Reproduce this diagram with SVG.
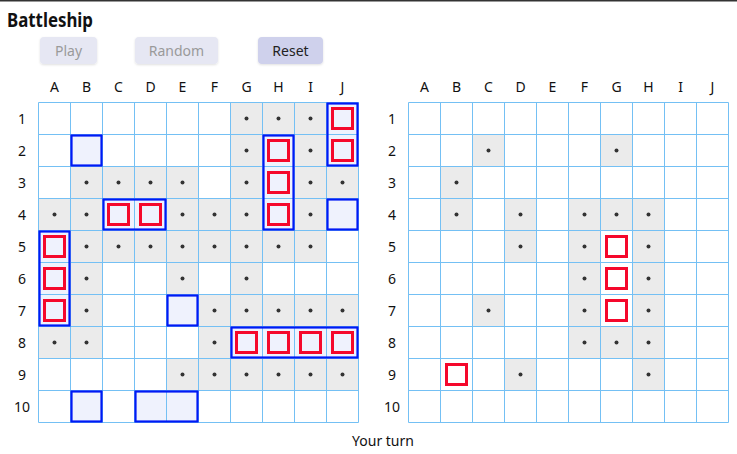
<svg xmlns="http://www.w3.org/2000/svg" width="737" height="454" viewBox="0 0 737 454">
<style>
text{font-family:"Noto Sans","Open Sans","Liberation Sans",sans-serif;}
.lbl{font-size:14px;fill:#111;text-anchor:middle;}
.gray{fill:#ebebeb;}
.shipfill{fill:#eff2fd;}
.ship{fill:none;stroke:#0019f5;stroke-width:2.2;}
.grid{fill:none;stroke:#74c0f4;stroke-width:1;}
.hit{fill:#eff2fd;stroke:#f5082c;stroke-width:3;}
.hitw{fill:#fff;stroke:#f5082c;stroke-width:3;}
.dot{fill:#333;}
.btn{fill:#e6e7f3;}
.btnon{fill:#cfd1ec;}
.btxt{font-size:14px;text-anchor:middle;fill:#9a9a9a;}
</style>
<defs>
<filter id="sh" x="-20%" y="-30%" width="140%" height="170%">
<feDropShadow dx="0" dy="1" stdDeviation="1" flood-color="#000" flood-opacity="0.12"/>
</filter>
</defs>
<rect x="0" y="0" width="737" height="454" fill="#fff"/>
<rect x="0" y="0" width="737" height="1.5" fill="#333"/>
<text x="7" y="26.5" textLength="86" lengthAdjust="spacingAndGlyphs" style="font-size:20px;font-weight:bold;fill:#111">Battleship</text>

<g id="buttons">
<g id="btn-play"><rect class="btn" x="40" y="37" width="57" height="27" rx="4" filter="url(#sh)"/><text class="btxt" x="68.5" y="56">Play</text></g>
<g id="btn-random"><rect class="btn" x="135" y="37" width="83" height="27" rx="4" filter="url(#sh)"/><text class="btxt" x="176.5" y="56">Random</text></g>
<g id="btn-reset"><rect class="btnon" x="258" y="37" width="65" height="27" rx="4" filter="url(#sh)"/><text class="btxt" x="290.5" y="56" style="fill:#222">Reset</text></g>
</g>

<g id="left-board">
<g id="left-labels" class="lbl">
<text x="54.5" y="92">A</text><text x="86.5" y="92">B</text><text x="118.5" y="92">C</text><text x="150.5" y="92">D</text><text x="182.5" y="92">E</text><text x="214.5" y="92">F</text><text x="246.5" y="92">G</text><text x="278.5" y="92">H</text><text x="310.5" y="92">I</text><text x="342.5" y="92">J</text>
<text x="22" y="123.5">1</text><text x="22" y="155.5">2</text><text x="22" y="187.5">3</text><text x="22" y="219.5">4</text><text x="22" y="251.5">5</text><text x="22" y="283.5">6</text><text x="22" y="315.5">7</text><text x="22" y="347.5">8</text><text x="22" y="379.5">9</text><text x="22" y="411.5">10</text>
</g>
<g id="left-misses" class="gray">
<rect x="230.5" y="102.5" width="96" height="32"/>
<rect x="230.5" y="134.5" width="32" height="32"/><rect x="294.5" y="134.5" width="32" height="32"/>
<rect x="70.5" y="166.5" width="128" height="32"/><rect x="230.5" y="166.5" width="32" height="32"/><rect x="294.5" y="166.5" width="64" height="32"/>
<rect x="38.5" y="198.5" width="64" height="32"/><rect x="166.5" y="198.5" width="96" height="32"/><rect x="294.5" y="198.5" width="32" height="32"/>
<rect x="70.5" y="230.5" width="256" height="32"/>
<rect x="70.5" y="262.5" width="32" height="32"/><rect x="166.5" y="262.5" width="32" height="32"/><rect x="230.5" y="262.5" width="32" height="32"/>
<rect x="70.5" y="294.5" width="32" height="32"/><rect x="198.5" y="294.5" width="160" height="32"/>
<rect x="38.5" y="326.5" width="64" height="32"/><rect x="198.5" y="326.5" width="32" height="32"/>
<rect x="166.5" y="358.5" width="192" height="32"/>
</g>
<g id="left-shipfill" class="shipfill">
<rect x="326.5" y="102.5" width="32" height="64"/>
<rect x="70.5" y="134.5" width="32" height="32"/>
<rect x="262.5" y="134.5" width="32" height="96"/>
<rect x="102.5" y="198.5" width="64" height="32"/>
<rect x="326.5" y="198.5" width="32" height="32"/>
<rect x="38.5" y="230.5" width="32" height="96"/>
<rect x="166.5" y="294.5" width="32" height="32"/>
<rect x="230.5" y="326.5" width="128" height="32"/>
<rect x="70.5" y="390.5" width="32" height="32"/>
<rect x="134.5" y="390.5" width="64" height="32"/>
</g>
<path id="left-grid" class="grid" d="M38.5 102.5V422.5M70.5 102.5V422.5M102.5 102.5V422.5M134.5 102.5V422.5M166.5 102.5V422.5M198.5 102.5V422.5M230.5 102.5V422.5M262.5 102.5V422.5M294.5 102.5V422.5M326.5 102.5V422.5M358.5 102.5V422.5M38.5 102.5H358.5M38.5 134.5H358.5M38.5 166.5H358.5M38.5 198.5H358.5M38.5 230.5H358.5M38.5 262.5H358.5M38.5 294.5H358.5M38.5 326.5H358.5M38.5 358.5H358.5M38.5 390.5H358.5M38.5 422.5H358.5"/>
<g id="left-ships" class="ship">
<rect x="327.5" y="103.5" width="30" height="62"/>
<rect x="71.5" y="135.5" width="30" height="30"/>
<rect x="263.5" y="135.5" width="30" height="94"/>
<rect x="103.5" y="199.5" width="62" height="30"/>
<rect x="327.5" y="199.5" width="30" height="30"/>
<rect x="39.5" y="231.5" width="30" height="94"/>
<rect x="167.5" y="295.5" width="30" height="30"/>
<rect x="231.5" y="327.5" width="126" height="30"/>
<rect x="71.5" y="391.5" width="30" height="30"/>
<rect x="135.5" y="391.5" width="62" height="30"/>
</g>
<g id="left-hits" class="hit">
<rect x="332.5" y="108.5" width="20" height="20"/>
<rect x="268.5" y="140.5" width="20" height="20"/>
<rect x="332.5" y="140.5" width="20" height="20"/>
<rect x="268.5" y="172.5" width="20" height="20"/>
<rect x="108.5" y="204.5" width="20" height="20"/>
<rect x="140.5" y="204.5" width="20" height="20"/>
<rect x="268.5" y="204.5" width="20" height="20"/>
<rect x="44.5" y="236.5" width="20" height="20"/>
<rect x="44.5" y="268.5" width="20" height="20"/>
<rect x="44.5" y="300.5" width="20" height="20"/>
<rect x="236.5" y="332.5" width="20" height="20"/>
<rect x="268.5" y="332.5" width="20" height="20"/>
<rect x="300.5" y="332.5" width="20" height="20"/>
<rect x="332.5" y="332.5" width="20" height="20"/>
</g>
<g id="left-dots" class="dot">
<circle cx="246.5" cy="118.5" r="2"/><circle cx="278.5" cy="118.5" r="2"/><circle cx="310.5" cy="118.5" r="2"/>
<circle cx="246.5" cy="150.5" r="2"/><circle cx="310.5" cy="150.5" r="2"/>
<circle cx="86.5" cy="182.5" r="2"/><circle cx="118.5" cy="182.5" r="2"/><circle cx="150.5" cy="182.5" r="2"/><circle cx="182.5" cy="182.5" r="2"/><circle cx="246.5" cy="182.5" r="2"/><circle cx="310.5" cy="182.5" r="2"/><circle cx="342.5" cy="182.5" r="2"/>
<circle cx="54.5" cy="214.5" r="2"/><circle cx="86.5" cy="214.5" r="2"/><circle cx="182.5" cy="214.5" r="2"/><circle cx="214.5" cy="214.5" r="2"/><circle cx="246.5" cy="214.5" r="2"/><circle cx="310.5" cy="214.5" r="2"/>
<circle cx="86.5" cy="246.5" r="2"/><circle cx="118.5" cy="246.5" r="2"/><circle cx="150.5" cy="246.5" r="2"/><circle cx="182.5" cy="246.5" r="2"/><circle cx="214.5" cy="246.5" r="2"/><circle cx="246.5" cy="246.5" r="2"/><circle cx="278.5" cy="246.5" r="2"/><circle cx="310.5" cy="246.5" r="2"/>
<circle cx="86.5" cy="278.5" r="2"/><circle cx="182.5" cy="278.5" r="2"/><circle cx="246.5" cy="278.5" r="2"/>
<circle cx="86.5" cy="310.5" r="2"/><circle cx="214.5" cy="310.5" r="2"/><circle cx="246.5" cy="310.5" r="2"/><circle cx="278.5" cy="310.5" r="2"/><circle cx="310.5" cy="310.5" r="2"/><circle cx="342.5" cy="310.5" r="2"/>
<circle cx="54.5" cy="342.5" r="2"/><circle cx="86.5" cy="342.5" r="2"/><circle cx="214.5" cy="342.5" r="2"/>
<circle cx="182.5" cy="374.5" r="2"/><circle cx="214.5" cy="374.5" r="2"/><circle cx="246.5" cy="374.5" r="2"/><circle cx="278.5" cy="374.5" r="2"/><circle cx="310.5" cy="374.5" r="2"/><circle cx="342.5" cy="374.5" r="2"/>
</g>
</g>

<g id="right-board">
<g id="right-labels" class="lbl">
<text x="424.5" y="92">A</text><text x="456.5" y="92">B</text><text x="488.5" y="92">C</text><text x="520.5" y="92">D</text><text x="552.5" y="92">E</text><text x="584.5" y="92">F</text><text x="616.5" y="92">G</text><text x="648.5" y="92">H</text><text x="680.5" y="92">I</text><text x="712.5" y="92">J</text>
<text x="392" y="123.5">1</text><text x="392" y="155.5">2</text><text x="392" y="187.5">3</text><text x="392" y="219.5">4</text><text x="392" y="251.5">5</text><text x="392" y="283.5">6</text><text x="392" y="315.5">7</text><text x="392" y="347.5">8</text><text x="392" y="379.5">9</text><text x="392" y="411.5">10</text>
</g>
<g id="right-misses" class="gray">
<rect x="472.5" y="134.5" width="32" height="32"/><rect x="600.5" y="134.5" width="32" height="32"/>
<rect x="440.5" y="166.5" width="32" height="32"/>
<rect x="440.5" y="198.5" width="32" height="32"/><rect x="504.5" y="198.5" width="32" height="32"/><rect x="568.5" y="198.5" width="96" height="32"/>
<rect x="504.5" y="230.5" width="32" height="32"/><rect x="568.5" y="230.5" width="32" height="32"/><rect x="632.5" y="230.5" width="32" height="32"/>
<rect x="568.5" y="262.5" width="32" height="32"/><rect x="632.5" y="262.5" width="32" height="32"/>
<rect x="472.5" y="294.5" width="32" height="32"/><rect x="568.5" y="294.5" width="32" height="32"/><rect x="632.5" y="294.5" width="32" height="32"/>
<rect x="568.5" y="326.5" width="96" height="32"/>
<rect x="504.5" y="358.5" width="32" height="32"/><rect x="632.5" y="358.5" width="32" height="32"/>
</g>
<path id="right-grid" class="grid" d="M408.5 102.5V422.5M440.5 102.5V422.5M472.5 102.5V422.5M504.5 102.5V422.5M536.5 102.5V422.5M568.5 102.5V422.5M600.5 102.5V422.5M632.5 102.5V422.5M664.5 102.5V422.5M696.5 102.5V422.5M728.5 102.5V422.5M408.5 102.5H728.5M408.5 134.5H728.5M408.5 166.5H728.5M408.5 198.5H728.5M408.5 230.5H728.5M408.5 262.5H728.5M408.5 294.5H728.5M408.5 326.5H728.5M408.5 358.5H728.5M408.5 390.5H728.5M408.5 422.5H728.5"/>
<g id="right-hits" class="hitw">
<rect x="606.5" y="236.5" width="20" height="20"/>
<rect x="606.5" y="268.5" width="20" height="20"/>
<rect x="606.5" y="300.5" width="20" height="20"/>
<rect x="446.5" y="364.5" width="20" height="20"/>
</g>
<g id="right-dots" class="dot">
<circle cx="488.5" cy="150.5" r="2"/><circle cx="616.5" cy="150.5" r="2"/>
<circle cx="456.5" cy="182.5" r="2"/>
<circle cx="456.5" cy="214.5" r="2"/><circle cx="520.5" cy="214.5" r="2"/><circle cx="584.5" cy="214.5" r="2"/><circle cx="616.5" cy="214.5" r="2"/><circle cx="648.5" cy="214.5" r="2"/>
<circle cx="520.5" cy="246.5" r="2"/><circle cx="584.5" cy="246.5" r="2"/><circle cx="648.5" cy="246.5" r="2"/>
<circle cx="584.5" cy="278.5" r="2"/><circle cx="648.5" cy="278.5" r="2"/>
<circle cx="488.5" cy="310.5" r="2"/><circle cx="584.5" cy="310.5" r="2"/><circle cx="648.5" cy="310.5" r="2"/>
<circle cx="584.5" cy="342.5" r="2"/><circle cx="616.5" cy="342.5" r="2"/><circle cx="648.5" cy="342.5" r="2"/>
<circle cx="520.5" cy="374.5" r="2"/><circle cx="648.5" cy="374.5" r="2"/>
</g>
</g>

<text id="status" class="lbl" x="383" y="446">Your turn</text>
</svg>
